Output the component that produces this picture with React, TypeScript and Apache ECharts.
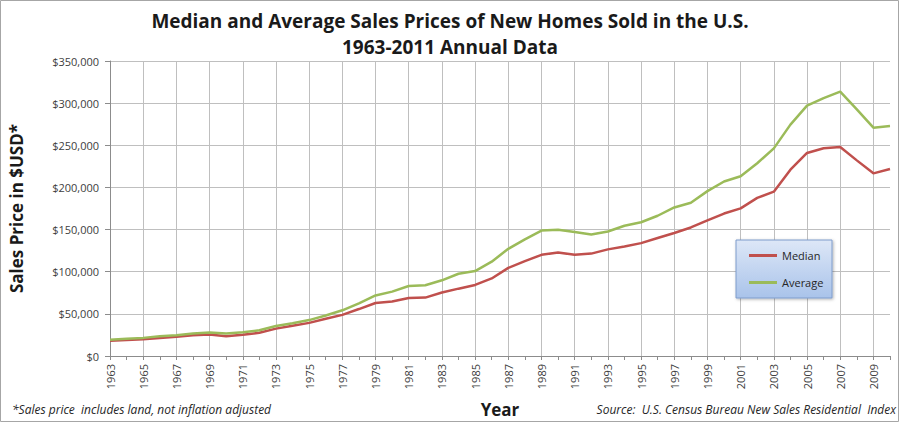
import React, { useEffect, useRef } from "react";
import * as echarts from "echarts";

const years: string[] = [];
for (let y = 1963; y <= 2010; y++) years.push(String(y));

const median = [
  18000, 18900, 20000, 21400, 22700, 24700, 25600, 23400, 25200, 27600,
  32500, 35900, 39300, 44200, 48800, 55700, 62900, 64600, 68900, 69300,
  75300, 79900, 84300, 92000, 104500, 112500, 120000, 122900, 120000, 121500,
  126500, 130000, 133900, 140000, 146000, 152500, 161000, 169000, 175200, 187600,
  195000, 221000, 240900, 246500, 247900, 232100, 216700, 221800,
];

const average = [
  19300, 20500, 21500, 23300, 24600, 26600, 27900, 26600, 28300, 30500,
  35500, 38900, 42600, 48000, 54200, 62500, 71800, 76400, 83000, 83900,
  89800, 97600, 100800, 111900, 127200, 138300, 148800, 149800, 147200, 144100,
  147700, 154500, 158700, 166400, 176200, 181900, 195600, 207000, 213200, 228700,
  246300, 274500, 297000, 305900, 313600, 292600, 270900, 272900,
];

const FONT = "'Open Sans', 'Liberation Sans', sans-serif";

export default function App() {
  const ref = useRef<HTMLDivElement>(null);
  useEffect(() => {
    document.body.style.margin = "0";
    const chart = echarts.init(ref.current!, undefined, { renderer: "svg" });
    const titleStyle = {
      fontFamily: FONT,
      fontSize: 19,
      fontWeight: "bold",
      color: "#1a1a1a",
    };
    chart.setOption({
      animation: false,
      backgroundColor: "#ffffff",
      textStyle: { fontFamily: FONT },
      title: [
        {
          text: "Median and Average Sales Prices of New Homes Sold in the U.S.",
          left: "center",
          top: 6,
          textStyle: titleStyle,
        },
        {
          text: "1963-2011 Annual Data",
          left: "center",
          top: 32,
          textStyle: titleStyle,
        },
      ],
      grid: { left: 104, right: 10, top: 61, bottom: 65, containLabel: false },
      xAxis: {
        type: "category",
        data: years,
        boundaryGap: false,
        name: "Year",
        nameLocation: "middle",
        nameGap: 45,
        nameTextStyle: { fontSize: 17, fontWeight: "bold", color: "#1a1a1a", fontFamily: FONT },
        axisLine: { lineStyle: { color: "#8c8c8c", width: 1 } },
        axisTick: { show: true, interval: 0, length: 4, lineStyle: { color: "#8c8c8c" } },
        axisLabel: {
          interval: 1,
          rotate: 90,
          fontSize: 11,
          color: "#404040",
          margin: 8,
        },
        splitLine: { show: true, interval: 1, lineStyle: { color: "#bfbfbf", width: 1 } },
      },
      yAxis: {
        type: "value",
        min: 0,
        max: 350000,
        interval: 50000,
        name: "Sales Price in $USD*",
        nameLocation: "middle",
        nameGap: 85,
        nameRotate: 90,
        nameTextStyle: { fontSize: 17, fontWeight: "bold", color: "#1a1a1a", fontFamily: FONT },
        axisLine: { show: true, lineStyle: { color: "#8c8c8c" } },
        axisTick: { show: true, length: 5, lineStyle: { color: "#8c8c8c" } },
        axisLabel: {
          fontSize: 11,
          color: "#404040",
          margin: 11,
          formatter: (v: number) => "$" + v.toLocaleString("en-US"),
        },
        splitLine: { show: true, lineStyle: { color: "#bfbfbf", width: 1 } },
      },
      legend: {
        orient: "vertical",
        left: 744,
        top: 245,
        itemGap: 16,
        itemWidth: 28,
        itemHeight: 3,
        icon: "rect",
        z: 20,
        textStyle: { fontSize: 11, color: "#262626", fontFamily: FONT },
        data: ["Median", "Average"],
      },
      graphic: [
        {
          type: "rect",
          z: 10,
          shape: { x: 736, y: 240, width: 96, height: 58 },
          style: {
            fill: new echarts.graphic.LinearGradient(0, 0, 0, 1, [
              { offset: 0, color: "#dde7f7" },
              { offset: 1, color: "#a9c3ea" },
            ]),
            stroke: "#7f9ccc",
            lineWidth: 1,
            shadowBlur: 3,
            shadowColor: "rgba(0,0,0,0.3)",
            shadowOffsetX: 1,
            shadowOffsetY: 1,
          },
        },
        {
          type: "rect",
          z: 0,
          shape: { x: 0.5, y: 0.5, width: 898, height: 421 },
          style: { fill: "none", stroke: "#a6a6a6", lineWidth: 1 },
        },
        {
          type: "text",
          left: 12,
          top: 403,
          style: {
            text: "*Sales price  includes land, not inflation adjusted",
            font: "italic 12px " + FONT,
            fill: "#262626",
          },
        },
        {
          type: "text",
          right: 4,
          top: 403,
          style: {
            text: "Source:  U.S. Census Bureau New Sales Residential  Index",
            font: "italic 12px " + FONT,
            fill: "#262626",
          },
        },
      ],
      series: [
        {
          name: "Median",
          type: "line",
          data: median,
          symbol: "none",
          lineStyle: { color: "#c0504d", width: 2.5 },
          itemStyle: { color: "#c0504d" },
        },
        {
          name: "Average",
          type: "line",
          data: average,
          symbol: "none",
          lineStyle: { color: "#9bbb59", width: 2.5 },
          itemStyle: { color: "#9bbb59" },
        },
      ],
    });
    return () => chart.dispose();
  }, []);
  return (
    <div
      ref={ref}
      style={{ position: "absolute", left: 0, top: 0, width: 900, height: 423 }}
    />
  );
}
